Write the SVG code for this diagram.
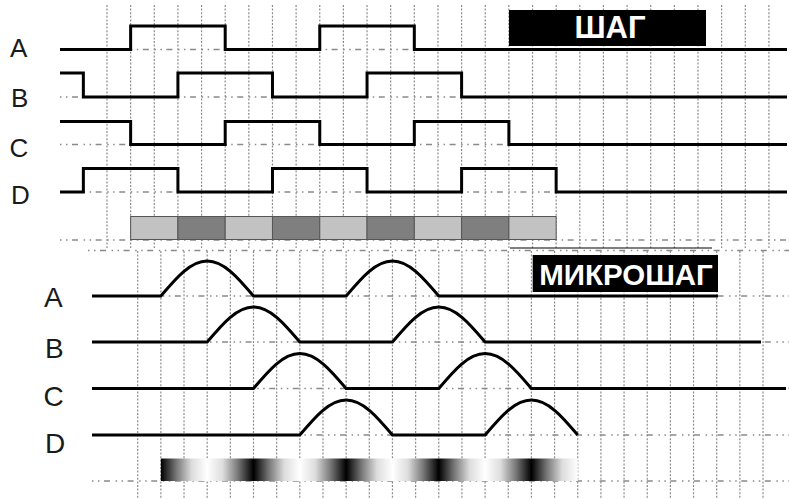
<svg xmlns="http://www.w3.org/2000/svg" width="789" height="499" viewBox="0 0 789 499">
<style>
.grid{stroke:#8c8c8c;stroke-width:1.2;stroke-dasharray:2 1.6;fill:none}
.base{stroke:#8a8a8a;stroke-width:1.3;stroke-dasharray:1.5 4.5 1.5 4.5 6 5.6;fill:none}
.wave{stroke:#000;stroke-width:3;fill:none;stroke-linejoin:miter}
.lbl{font-family:"Liberation Sans",Arial,sans-serif;font-size:26px;fill:#1a1a1a}
.lbl2{font-family:"Liberation Sans",Arial,sans-serif;font-size:28px;fill:#1a1a1a}
.tag{font-family:"Liberation Sans",Arial,sans-serif;font-weight:bold;fill:#fff;text-anchor:middle}
.lt{fill:#c2c2c2;stroke:#555;stroke-width:1}
.dk{fill:#7f7f7f;stroke:#555;stroke-width:1}
</style>
<defs>
<linearGradient id="ms" gradientUnits="userSpaceOnUse" x1="160.86" y1="0" x2="577.74" y2="0">
<stop offset="0" stop-color="#000"/>
<stop offset="0.037" stop-color="#777"/>
<stop offset="0.074" stop-color="#ddd"/>
<stop offset="0.1111" stop-color="#fff"/>
<stop offset="0.1481" stop-color="#ddd"/>
<stop offset="0.1852" stop-color="#777"/>
<stop offset="0.2222" stop-color="#000"/>
<stop offset="0.2593" stop-color="#777"/>
<stop offset="0.2963" stop-color="#ddd"/>
<stop offset="0.3333" stop-color="#fff"/>
<stop offset="0.3704" stop-color="#ddd"/>
<stop offset="0.4074" stop-color="#777"/>
<stop offset="0.4444" stop-color="#000"/>
<stop offset="0.4815" stop-color="#777"/>
<stop offset="0.5185" stop-color="#ddd"/>
<stop offset="0.5556" stop-color="#fff"/>
<stop offset="0.5926" stop-color="#ddd"/>
<stop offset="0.6296" stop-color="#777"/>
<stop offset="0.6667" stop-color="#000"/>
<stop offset="0.7037" stop-color="#777"/>
<stop offset="0.7407" stop-color="#ddd"/>
<stop offset="0.7778" stop-color="#fff"/>
<stop offset="0.8148" stop-color="#ddd"/>
<stop offset="0.8519" stop-color="#777"/>
<stop offset="0.8889" stop-color="#000"/>
<stop offset="0.9259" stop-color="#777"/>
<stop offset="0.9630" stop-color="#ddd"/>
<stop offset="1" stop-color="#fff"/>
</linearGradient>
</defs>
<rect width="789" height="499" fill="#fff"/>

<g id="grid-top">
<path class="grid" d="M107,5V248M130.64,5V248M154.28,5V248M177.92,5V248M201.56,5V248M225.2,5V248M248.84,5V248M272.48,5V248M296.12,5V248M319.76,5V248M343.4,5V248M367.04,5V248M390.68,5V248M414.32,5V248M437.96,5V248M461.6,5V248M485.24,5V248M508.88,5V248M532.52,5V248M556.16,5V248M579.8,5V248M603.44,5V248M627.08,5V248M650.72,5V248M674.36,5V248M698,5V248M721.64,5V248M745.28,5V248M768.92,5V248"/>
</g>
<g id="grid-bottom">
<path class="grid" d="M137.7,251V499M160.86,251V499M184.02,251V499M207.18,251V499M230.34,251V499M253.5,251V499M276.66,251V499M299.82,251V499M322.98,251V499M346.14,251V499M369.3,251V499M392.46,251V499M415.62,251V499M438.78,251V499M461.94,251V499M485.1,251V499M508.26,251V499M531.42,251V499M554.58,251V499M577.74,251V499M600.9,251V499M624.06,251V499M647.22,251V499M670.38,251V499M693.54,251V499M716.7,251V499M739.86,251V499M763.02,251V499"/>
</g>
<g id="baselines">
<path class="base" d="M60,49.5H789M60,97H789M60,144.5H789M60,192H789M60,240H789M88,250.5H789M92,296H789M92,342H789M92,388.5H789M92,435H789M92,481H789"/>
<line x1="510" y1="248" x2="712" y2="248" stroke="#000" stroke-width="1.2"/>
</g>

<g id="step-bar">
<rect class="lt" x="130.64" y="216.5" width="47.28" height="23"/>
<rect class="dk" x="177.92" y="216.5" width="47.28" height="23"/>
<rect class="lt" x="225.2" y="216.5" width="47.28" height="23"/>
<rect class="dk" x="272.48" y="216.5" width="47.28" height="23"/>
<rect class="lt" x="319.76" y="216.5" width="47.28" height="23"/>
<rect class="dk" x="367.04" y="216.5" width="47.28" height="23"/>
<rect class="lt" x="414.32" y="216.5" width="47.28" height="23"/>
<rect class="dk" x="461.6" y="216.5" width="47.28" height="23"/>
<rect class="lt" x="508.88" y="216.5" width="47.28" height="23"/>
</g>
<g id="microstep-bar">
<rect x="160.86" y="458.5" width="416.88" height="22.5" fill="url(#ms)"/>
</g>

<g id="connectors">
<g id="step-waves">
<path class="wave" d="M60,49.5H130.64V26H225.2V49.5H319.76V26H414.32V49.5H787"/>
<path class="wave" d="M60,73H83.36V97H177.92V73H272.48V97H367.04V73H461.6V97H787"/>
<path class="wave" d="M60,121.5H130.64V144.5H225.2V121.5H319.76V144.5H414.32V121.5H508.88V144.5H787"/>
<path class="wave" d="M60,192H83.36V168.5H177.92V192H272.48V168.5H367.04V192H461.6V168.5H556.16V192H787"/>
</g>
<g id="micro-waves">
<path class="wave" d="M92,296H160.86c15.11,-17.93 29.56,-35 46.32,-35c16.76,0 31.21,17.07 46.32,35H346.14c15.11,-17.93 29.56,-35 46.32,-35c16.76,0 31.21,17.07 46.32,35H718"/>
<path class="wave" d="M92,342H207.18c15.11,-17.93 29.56,-35 46.32,-35c16.760,0 31.21,17.07 46.32,35H392.46c15.11,-17.93 29.56,-35 46.32,-35c16.76,0 31.21,17.07 46.32,35H761"/>
<path class="wave" d="M92,388.5H253.5c15.11,-17.93 29.56,-35 46.32,-35c16.76,0 31.21,17.07 46.32,35H438.78c15.11,-17.93 29.56,-35 46.32,-35c16.76,0 31.21,17.07 46.32,35H786"/>
<path class="wave" d="M92,435H299.82c15.11,-17.93 29.56,-35 46.32,-35c16.76,0 31.21,17.07 46.32,35H485.1c15.11,-17.93 29.56,-35 46.32,-35c16.76,0 31.21,17.07 46.32,35"/>
</g>
</g>

<g id="label-step">
<rect x="509" y="10" width="197" height="36" fill="#000"/>
<text class="tag" x="610" y="37.5" font-size="31">ШАГ</text>
</g>
<g id="label-microstep">
<rect x="532.7" y="255" width="185.3" height="37" fill="#000"/>
<text class="tag" x="626" y="285" font-size="29.5">МИКРОШАГ</text>
</g>

<g id="labels-top">
<text class="lbl" x="10" y="56.5">A</text>
<text class="lbl" x="11" y="107">B</text>
<text class="lbl" x="9.5" y="157">C</text>
<text class="lbl" x="11" y="203.5">D</text>
</g>
<g id="labels-bottom">
<text class="lbl2" x="44" y="306.5">A</text>
<text class="lbl2" x="45" y="358">B</text>
<text class="lbl2" x="43.5" y="406">C</text>
<text class="lbl2" x="45" y="453">D</text>
</g>
</svg>
